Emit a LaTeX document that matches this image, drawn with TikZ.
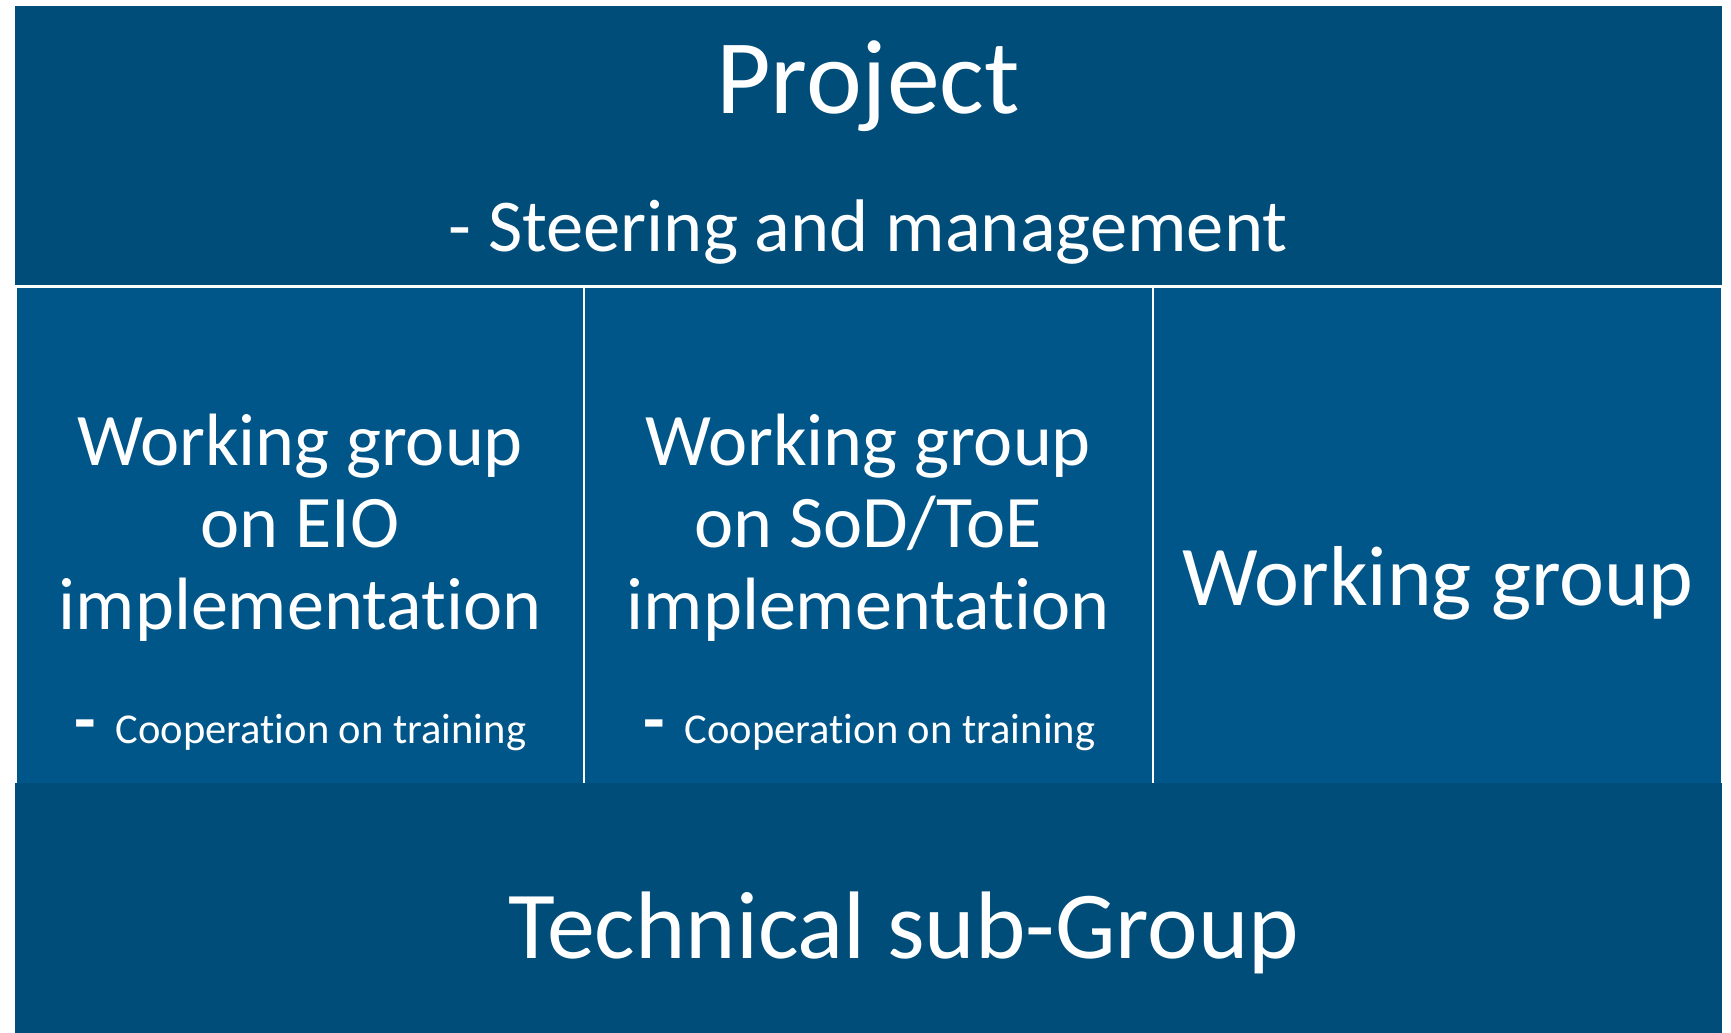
\documentclass[tikz,border=0pt]{standalone}
\usepackage{fontspec}
\setmainfont{Carlito}[Ligatures=NoCommon]
\usetikzlibrary{calc}
\definecolor{bandblue}{RGB}{1,77,122}
\definecolor{cellblue}{RGB}{1,86,137}

\begin{document}
\begin{tikzpicture}[x=0.1mm,y=-0.1mm,
    label/.style={text=white, inner sep=0pt, anchor=base},
    cell/.style={fill=cellblue, draw=white, line width=0.25mm}]
        \useasboundingbox[fill=white] (0,0) rectangle (1731,1033);

        % bands and cells
        \fill[bandblue] (15,6) rectangle (1722,285);
        \draw[cell] (16,287) rectangle (584,790);
        \draw[cell] (584,287) rectangle (1153,790);
        \draw[cell] (1153,287) rectangle (1722,790);
        \fill[bandblue] (15,783) rectangle (1722,1033);

        \node (project) [label, font=\fontsize{30.1}{31}\selectfont] at (868,114) {Project};
        \node (steering) [label, font=\fontsize{21.2}{23}\selectfont] at (868,252) {- Steering and management};

        % base = last line
        \node (eio) [label, align=center, font=\fontsize{21.1}{23.3}\selectfont] at (300,629) {Working group\\on EIO\\implementation};
        \node (sod) [label, align=center, font=\fontsize{21.1}{23.3}\selectfont] at (868,629) {Working group\\on SoD/ToE\\implementation};
        \node (wg) [label, font=\fontsize{24.2}{26}\selectfont] at (1438,605) {Working group};

        \node (dasha) [label, anchor=base west, font=\fontsize{20}{20}\selectfont\bfseries] at (74,743) {-};
        \node (coopa) [label, anchor=base west, font=\fontsize{12.1}{14}\selectfont] at (115,743) {Cooperation on training};
        \node (dashb) [label, anchor=base west, font=\fontsize{20}{20}\selectfont\bfseries] at (643,743) {-};
        \node (coopb) [label, anchor=base west, font=\fontsize{12.1}{14}\selectfont] at (684,743) {Cooperation on training};

        \node (technical) [label, font=\fontsize{27.3}{29}\selectfont] at (904,958) {Technical sub-Group};
    \end{tikzpicture}
\end{document}
